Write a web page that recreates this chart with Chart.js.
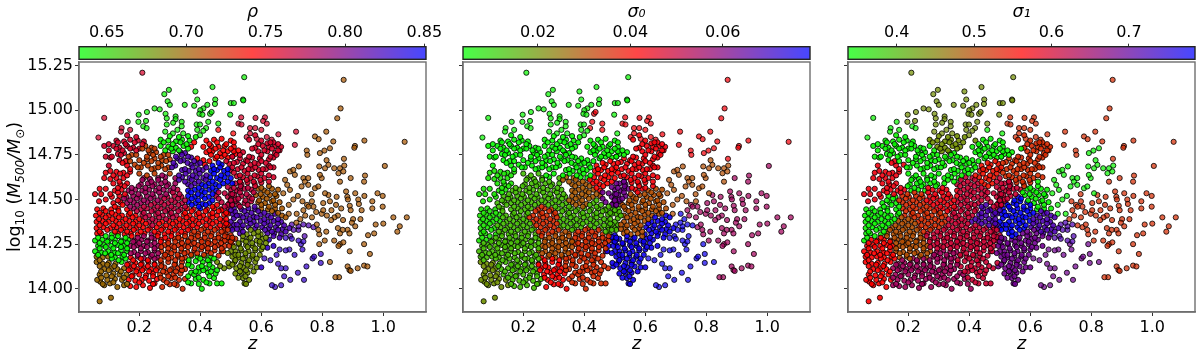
<!DOCTYPE html>
<html><head><meta charset="utf-8">
<script src="https://cdn.jsdelivr.net/npm/chart.js@4"></script>
<style>html,body{margin:0;background:#fff;width:1200px;height:359px;overflow:hidden}canvas{position:absolute}</style>
</head><body>
<script>
// Points, as z, log10(M500/Msun) pairs
const top1=[.21,15.21,.544,15.185,.282,15.09,.297,15.114,.293,15.05,.30,15.03,.384,15.105,.39,15.06,.44,15.13,.449,15.06,.448,15.035,.349,15.03,.38,15.025,.423,15.03,.41,15.01,.40,15.0,.397,14.98,.407,14.975,.432,14.98,.437,14.99,.50,15.04,.51,15.04,.54,15.06,.541,15.055,.498,14.975,.25,15.01,.267,15.005,.225,14.99,.198,14.975,.286,14.98,.162,14.935,.197,14.935,.222,14.94,.29,14.955,.319,14.965,.319,14.95,.339,14.935,.459,14.925,.534,14.96,.581,14.957,.612,14.96,.606,14.94,.563,14.9,.525,14.925,.535,14.92,.618,14.925,.459,14.89,.426,14.935,.388,14.92,.399,14.92,.419,14.9,.213,14.91,.224,14.9,.17,14.89,.142,14.9,.14,14.88,.29,14.92,.311,14.93,.339,14.91,.344,14.87,.399,14.86,.508,14.87,.563,14.87,.552,14.85,.585,14.84,.618,14.85,.656,14.865,.634,14.835,.085,14.957,.066,14.847,.325,14.89,.31,14.87,.285,14.88,.39,14.89,.41,14.885,.58,14.9,.6,14.89];
const far1=[.87,15.17,.86,15.01,.849,14.955,1.07,14.823,.938,14.83,.907,14.80,.905,14.79,.714,14.88,.813,14.88,.776,14.853,.788,14.838,.71,14.806,.749,14.774,.751,14.75,.792,14.76,.807,14.774,.825,14.787,.836,14.825,.871,14.728,1.005,14.688,.94,14.634,.937,14.60,.893,14.62,.71,14.638,.694,14.657,.705,14.666,.723,14.685,.678,14.61,.685,14.582,.694,14.554,.672,14.535,.738,14.62,.743,14.60,.754,14.62,.732,14.573,.754,14.582,.776,14.563,.787,14.573,.798,14.62,.792,14.638,.809,14.675,.79,14.685,.82,14.694,.839,14.675,.858,14.675,.872,14.69,.853,14.647,.869,14.657,.858,14.60,.878,14.545,.882,14.515,.847,14.515,.825,14.49,.82,14.525,.809,14.535,.814,14.72,.908,14.535,.938,14.52,.964,14.49,.981,14.535,.998,14.52,.964,14.45,.998,14.46,1.033,14.40,1.077,14.40,1.054,14.35,1.046,14.32,1.0,14.365,.975,14.36,.97,14.31,.95,14.30,.918,14.5,.92,14.475,.929,14.44,.925,14.39,.901,14.39,.884,14.5,.89,14.465,.893,14.44,.862,14.45,.851,14.41,.84,14.40,.829,14.385,.868,14.385,.897,14.37,.908,14.35,.883,14.33,.889,14.31,.867,14.33,.851,14.34,.858,14.31,.839,14.27,.858,14.25,.869,14.26,.853,14.24,.89,14.21,.937,14.25,.956,14.195,.937,14.13,.948,14.125,.916,14.115,.883,14.125,.889,14.105,.893,14.10,.855,14.065,.843,14.065,.825,14.15,.79,14.25,.795,14.195,.795,14.145,.768,14.17,.773,14.18,.748,14.125,.74,14.05,.72,14.09,.675,14.07,.665,14.02,.645,14.01,.635,14.02,.695,14.05,.68,14.115,.665,14.115,.735,14.22,.73,14.25,.709,14.19,.692,14.22,.742,14.295,.738,14.265,.722,14.27,.722,14.33,.722,14.35,.706,14.33,.695,14.295,.808,14.27,.813,14.32,.79,14.305,.787,14.33,.771,14.345,.755,14.355,.738,14.36,.728,14.39,.716,14.42,.738,14.44,.75,14.47,.766,14.49,.771,14.46,.755,14.46,.744,14.41,.766,14.40,.782,14.36,.798,14.42,.803,14.44,.803,14.48,.66,14.22,.68,14.215,.7,14.28,.68,14.285,.7,14.36,.715,14.37,.69,14.42,.69,14.47,.705,14.5,.72,14.52,.735,14.49,.78,14.43,.815,14.41,.83,14.44,.845,14.47,.765,14.53,.65,14.19,.63,14.16,.61,14.17,.655,14.14];
const b00=[.07,13.93,.107,13.95,.072,14.04,.085,14.02,.104,14.03,.128,14.01,.15,14.02,.17,14.015,.19,14.01,.212,14.02,.235,14.005,.25,14.03,.275,14.01,.30,14.025,.323,14.02,.342,14.0,.37,14.03,.405,14.0,.43,14.03,.455,14.03,.47,14.03,.062,14.05,.095,14.05,.12,14.055,.143,14.05,.165,14.05,.187,14.045,.208,14.05,.232,14.045,.258,14.055,.28,14.05,.305,14.06,.33,14.05,.35,14.055,.385,14.055,.41,14.05,.445,14.06,.545,14.03,.56,14.05,.54,14.06];
const b08=[.07,14.08,.092,14.075,.115,14.085,.135,14.08,.158,14.08,.178,14.075,.2,14.08,.222,14.075,.245,14.085,.268,14.08,.29,14.09,.312,14.08,.335,14.085,.37,14.09,.38,14.08,.395,14.095,.425,14.09,.45,14.085,.515,14.085,.535,14.09,.555,14.09,.085,14.11,.108,14.115,.128,14.11,.15,14.115,.172,14.11,.193,14.11,.215,14.115,.238,14.11,.26,14.115,.282,14.12,.305,14.11,.325,14.115,.35,14.11,.372,14.125,.395,14.12,.418,14.115,.44,14.12,.478,14.115,.495,14.125,.518,14.115,.54,14.12,.565,14.125,.585,14.12,.6,14.12];
const b14=[.06,14.15,.08,14.14,.1,14.145,.122,14.14,.142,14.15,.165,14.14,.187,14.145,.208,14.14,.23,14.15,.25,14.14,.272,14.145,.295,14.15,.318,14.14,.34,14.15,.362,14.145,.385,14.155,.408,14.15,.43,14.15,.455,14.15,.492,14.145,.512,14.15,.535,14.145,.555,14.15,.58,14.15,.06,14.18,.172,14.175,.195,14.18,.215,14.17,.238,14.18,.26,14.175,.282,14.18,.305,14.175,.328,14.18,.35,14.175,.372,14.185,.392,14.18,.415,14.185,.435,14.18,.46,14.185,.505,14.18,.525,14.175,.548,14.185,.57,14.18,.595,14.19,.08,14.175,.098,14.18,.12,14.175,.145,14.18];
const b20=[.055,14.21,.075,14.205,.098,14.21,.118,14.205,.14,14.215,.16,14.21,.183,14.205,.205,14.21,.228,14.205,.25,14.215,.272,14.21,.293,14.205,.315,14.215,.338,14.21,.358,14.205,.38,14.215,.403,14.22,.425,14.21,.447,14.215,.47,14.21,.515,14.21,.535,14.215,.558,14.21,.58,14.215,.6,14.22,.62,14.23,.64,14.24,.065,14.24,.085,14.245,.108,14.24,.13,14.245,.15,14.24,.17,14.24,.193,14.245,.215,14.24,.24,14.245,.262,14.24,.283,14.245,.305,14.24,.327,14.245,.348,14.24,.37,14.25,.392,14.245,.413,14.24,.435,14.25,.458,14.245,.48,14.24,.505,14.245,.527,14.25,.55,14.245,.572,14.24,.595,14.25];
const b27=[.055,14.27,.078,14.275,.1,14.27,.12,14.275,.142,14.27,.163,14.275,.185,14.27,.207,14.275,.228,14.27,.25,14.28,.272,14.275,.295,14.27,.316,14.28,.338,14.275,.36,14.27,.382,14.28,.403,14.275,.425,14.27,.447,14.28,.47,14.275,.492,14.27,.515,14.28,.54,14.275,.56,14.28,.585,14.27,.605,14.28,.625,14.275,.062,14.31,.075,14.31,.11,14.305,.13,14.31,.152,14.305,.172,14.31,.195,14.305,.217,14.31,.24,14.305,.262,14.31,.283,14.305,.305,14.31,.328,14.305,.35,14.31,.372,14.305,.393,14.31,.415,14.305,.437,14.31,.46,14.305,.482,14.31,.53,14.31,.552,14.305,.575,14.31,.598,14.305,.62,14.31,.642,14.31,.665,14.305];
const b34=[.06,14.34,.082,14.345,.105,14.34,.125,14.345,.147,14.34,.168,14.345,.19,14.34,.212,14.345,.235,14.34,.257,14.345,.278,14.34,.3,14.345,.322,14.34,.345,14.345,.367,14.34,.39,14.345,.412,14.34,.433,14.345,.455,14.34,.478,14.345,.5,14.34,.535,14.34,.558,14.345,.58,14.34,.603,14.345,.625,14.34,.648,14.345,.67,14.335,.692,14.34,.06,14.375,.08,14.38,.1,14.375,.123,14.38,.145,14.375,.167,14.38,.188,14.375,.21,14.38,.232,14.375,.253,14.38,.275,14.375,.298,14.38,.32,14.375,.342,14.38,.364,14.375,.385,14.38,.407,14.375,.43,14.38,.452,14.375,.475,14.38,.53,14.375,.552,14.38,.575,14.375,.598,14.38,.62,14.375,.64,14.38,.665,14.375];
const b40=[.058,14.41,.078,14.415,.1,14.41,.122,14.415,.143,14.41,.165,14.415,.188,14.41,.21,14.415,.232,14.41,.255,14.415,.277,14.41,.3,14.415,.322,14.41,.345,14.415,.365,14.41,.388,14.415,.41,14.41,.432,14.415,.455,14.41,.478,14.415,.53,14.41,.552,14.415,.575,14.405,.598,14.415,.622,14.41,.645,14.42,.668,14.41,.062,14.445,.082,14.45,.108,14.445,.13,14.45,.16,14.445,.182,14.45,.205,14.445,.225,14.45,.248,14.445,.27,14.45,.292,14.445,.313,14.45,.335,14.445,.356,14.45,.378,14.445,.4,14.45,.422,14.445,.445,14.45,.468,14.445,.49,14.455,.51,14.45,.535,14.445,.558,14.45,.58,14.445,.6,14.45,.622,14.445,.645,14.45,.668,14.45];
const b47=[.115,14.48,.138,14.485,.16,14.48,.182,14.485,.205,14.48,.227,14.485,.25,14.48,.272,14.485,.295,14.48,.317,14.485,.34,14.48,.362,14.485,.385,14.48,.407,14.475,.43,14.48,.47,14.485,.495,14.48,.518,14.49,.545,14.48,.567,14.49,.59,14.485,.612,14.48,.635,14.49,.66,14.485,.068,14.49,.09,14.5,.055,14.53,.075,14.53,.11,14.515,.135,14.52,.158,14.515,.18,14.52,.202,14.515,.225,14.52,.247,14.515,.27,14.52,.292,14.515,.315,14.52,.338,14.515,.36,14.52,.382,14.515,.405,14.52,.428,14.515,.452,14.52,.49,14.515,.512,14.525,.535,14.52,.56,14.515,.582,14.525,.605,14.515,.628,14.525,.65,14.52];
const b55=[.07,14.56,.09,14.56,.12,14.55,.142,14.555,.165,14.55,.187,14.555,.21,14.55,.232,14.555,.255,14.55,.28,14.555,.302,14.55,.325,14.555,.36,14.55,.382,14.555,.405,14.55,.43,14.555,.452,14.55,.5,14.555,.52,14.55,.545,14.56,.568,14.555,.59,14.56,.61,14.55,.635,14.56,.655,14.555,.115,14.59,.138,14.585,.16,14.59,.205,14.585,.228,14.59,.25,14.585,.272,14.59,.295,14.585,.318,14.59,.36,14.585,.382,14.59,.405,14.585,.428,14.59,.45,14.585,.475,14.59,.515,14.59,.535,14.585,.555,14.595,.578,14.59,.6,14.595,.125,14.62,.148,14.62,.085,14.62,.105,14.615];
const b62=[.09,14.65,.105,14.66,.1,14.69,.125,14.655,.148,14.65,.17,14.655,.215,14.62,.235,14.615,.262,14.62,.285,14.625,.318,14.62,.34,14.625,.365,14.62,.388,14.625,.41,14.62,.432,14.625,.455,14.62,.48,14.625,.52,14.63,.54,14.625,.565,14.62,.587,14.63,.61,14.62,.64,14.625,.16,14.69,.185,14.695,.205,14.68,.228,14.69,.25,14.675,.272,14.69,.295,14.68,.318,14.69,.34,14.665,.362,14.66,.385,14.66,.408,14.665,.435,14.66,.455,14.665,.478,14.66,.5,14.665,.523,14.67,.545,14.66,.57,14.67,.592,14.665,.615,14.67,.37,14.695,.39,14.7,.415,14.695,.44,14.69,.47,14.695,.495,14.7,.54,14.7,.565,14.695,.59,14.7,.625,14.69,.64,14.68];
const b72=[.09,14.74,.105,14.735,.135,14.72,.155,14.715,.2,14.72,.225,14.725,.25,14.73,.275,14.72,.3,14.725,.325,14.73,.345,14.72,.37,14.735,.39,14.73,.41,14.72,.45,14.73,.47,14.74,.53,14.73,.55,14.72,.57,14.735,.595,14.73,.625,14.725,.64,14.735,.13,14.755,.15,14.76,.175,14.75,.235,14.76,.255,14.765,.28,14.75,.31,14.77,.335,14.765,.35,14.76,.42,14.765,.44,14.77,.465,14.76,.49,14.77,.515,14.755,.54,14.765,.59,14.77,.62,14.77,.645,14.76,.66,14.775,.085,14.8,.115,14.8,.135,14.79,.16,14.8,.18,14.79,.2,14.785,.22,14.8,.24,14.79,.27,14.8,.295,14.795,.32,14.79,.345,14.8,.37,14.795,.41,14.795,.435,14.8,.46,14.795,.48,14.8,.51,14.795,.58,14.79,.605,14.8,.625,14.795,.645,14.8,.665,14.795];
const b83=[.125,14.83,.15,14.825,.17,14.835,.195,14.83,.215,14.825,.27,14.835,.295,14.83,.32,14.825,.34,14.835,.365,14.83,.42,14.83,.445,14.835,.47,14.84,.5,14.83,.56,14.835,.6,14.83,.62,14.815,.64,14.82,.655,14.81,.16,14.86,.19,14.85,.3,14.855,.33,14.85,.36,14.855,.385,14.85,.58,14.86];
const midBand=[.5,14.21,.495,14.24,.505,14.275,.5,14.3,.505,14.33,.51,14.36,.5,14.375,.51,14.395,.505,14.42,.515,14.43,.5,14.44,.49,14.47,.505,14.47,.515,14.5,.5,14.5,.5,14.53,.48,14.535,.49,14.57,.505,14.59,.49,14.6,.5,14.62,.51,14.65,.505,14.68,.52,14.71,.505,14.74,.49,14.735,.51,14.77,.475,14.21,.49,14.2,.515,14.19,.48,14.27,.49,14.29,.48,14.33,.49,14.36,.485,14.39,.49,14.42,.47,14.44,.52,14.335,.52,14.36,.52,14.41,.525,14.47,.53,14.56,.53,14.6];
const sparseLists=[top1,far1];
const denseLists=[b00,b08,b14,b20,b27,b34,b40,b47,b55,b62,b72,b83,midBand];
// Further points in the crowded area: first entry is log10 M, the others are z
const crowdRows=[
[14.027,.08,.16,.245,.315,.395,.55],[14.036,.115,.2,.29,.36,.42],
[14.062,.075,.15,.22,.27,.318,.395,.525],[14.07,.11,.175,.245,.295,.36,.43,.548],
[14.097,.075,.14,.19,.232,.278,.32,.385,.435,.53,.575],[14.104,.1,.165,.21,.255,.3,.34,.41,.455,.55],
[14.127,.07,.118,.182,.228,.272,.338,.405,.465,.53],[14.135,.095,.16,.205,.25,.315,.36,.43,.505,.555],
[14.16,.07,.132,.18,.228,.27,.318,.362,.425,.515,.56],[14.169,.11,.155,.205,.25,.295,.34,.4,.445,.54,.585],
[14.19,.065,.108,.15,.195,.242,.285,.325,.37,.412,.525,.572],[14.199,.088,.13,.172,.22,.262,.305,.348,.39,.435,.548],
[14.226,.07,.115,.16,.205,.25,.295,.338,.382,.425,.47,.532,.58],[14.234,.09,.14,.182,.225,.272,.315,.36,.405,.448,.51,.555,.605],
[14.256,.07,.12,.16,.2,.25,.295,.34,.38,.425,.468,.525,.57,.615],[14.264,.095,.14,.18,.225,.27,.318,.36,.405,.448,.5,.55,.595],
[14.286,.065,.11,.155,.195,.24,.285,.328,.37,.415,.46,.505,.565,.615,.66],[14.295,.09,.13,.175,.215,.26,.305,.35,.392,.435,.48,.54,.59,.64],
[14.32,.07,.12,.16,.205,.25,.295,.338,.38,.425,.47,.54,.59,.635,.68],[14.33,.095,.14,.182,.228,.272,.316,.36,.403,.447,.49,.565,.612,.655],
[14.355,.07,.115,.158,.2,.243,.288,.332,.375,.42,.465,.54,.585,.63,.675],[14.365,.09,.135,.18,.222,.265,.31,.355,.395,.44,.485,.565,.61,.655],
[14.39,.068,.112,.155,.2,.243,.288,.332,.375,.42,.465,.562,.61,.655],[14.4,.09,.133,.178,.22,.265,.31,.355,.398,.44,.54,.585,.632,.68],
[14.425,.07,.11,.17,.215,.262,.305,.35,.395,.44,.485,.568,.61,.655],[14.435,.09,.132,.192,.24,.285,.328,.372,.417,.46,.545,.59,.635],
[14.46,.12,.17,.215,.26,.305,.35,.395,.44,.48,.53,.578,.625],[14.47,.145,.193,.238,.282,.328,.372,.418,.455,.505,.555,.6,.645],
[14.495,.13,.17,.215,.26,.305,.35,.393,.44,.5,.548,.593,.64],[14.505,.15,.192,.237,.282,.327,.372,.415,.46,.525,.57,.618],
[14.53,.105,.153,.197,.243,.288,.332,.392,.44,.505,.552,.598,.645],[14.54,.13,.175,.22,.265,.31,.37,.415,.46,.53,.575,.62],
[14.565,.13,.175,.22,.265,.312,.395,.44,.51,.556,.6],[14.575,.152,.198,.243,.29,.37,.417,.462,.532,.58,.625],
[14.6,.135,.24,.285,.35,.395,.44,.53,.575,.625],[14.61,.21,.262,.33,.372,.418,.465,.552,.597],
[14.635,.115,.16,.225,.275,.33,.375,.42,.468,.53,.578,.625],[14.645,.137,.2,.25,.3,.352,.398,.445,.49,.555,.6],
[14.67,.17,.24,.285,.35,.395,.445,.49,.558,.605],[14.68,.195,.262,.307,.375,.42,.465,.535,.58,.63],
[14.705,.145,.215,.262,.312,.358,.4,.46,.51,.578,.615],[14.715,.17,.24,.288,.335,.38,.43,.485,.555,.6],
[14.74,.11,.165,.225,.27,.32,.36,.455,.505,.56,.63],[14.75,.14,.19,.245,.295,.34,.435,.48,.53,.6,.65],
[14.775,.1,.145,.19,.23,.285,.33,.43,.475,.525,.61,.655],[14.785,.125,.17,.21,.25,.305,.36,.45,.5,.57,.635],
[14.81,.1,.155,.21,.31,.355,.43,.485,.59],[14.82,.13,.185,.28,.335,.38,.455,.51,.63]];

// Colour regions: z, log10 M, value
const rhoCells=[.29,15.06,.637,.40,15.02,.637,.31,14.83,.637,.39,14.91,.637,.21,15.0,.637,.54,15.18,.637,.51,15.04,.637,.21,15.21,.759,.16,14.83,.759,.07,14.8,.759,.10,14.74,.759,.085,14.96,.759,.126,14.59,.748,.07,14.52,.748,.148,14.65,.748,.246,14.70,.716,.2,14.70,.716,.29,14.70,.716,.366,14.67,.818,.388,14.61,.818,.32,14.70,.818,.41,14.55,.851,.475,14.63,.851,.39,14.52,.851,.454,14.80,.742,.497,14.815,.742,.42,14.78,.742,.574,14.78,.759,.65,14.76,.759,.574,14.65,.759,.585,14.88,.759,.53,14.68,.759,.53,14.92,.759,.235,14.554,.781,.2,14.52,.781,.28,14.58,.781,.29,14.44,.768,.322,14.50,.768,.235,14.42,.768,.497,14.52,.768,.53,14.52,.768,.78,14.5,.705,.89,14.4,.705,.727,14.57,.705,.836,14.27,.705,.617,14.5,.705,.672,14.52,.705,.89,14.125,.705,.847,14.07,.705,.727,14.65,.705,.836,14.68,.705,1.0,14.5,.705,1.055,14.35,.705,.787,14.25,.705,.705,14.40,.705,.574,14.40,.818,.65,14.33,.818,.53,14.39,.818,.716,14.33,.818,.683,14.14,.829,.65,14.05,.829,.77,14.16,.829,.617,14.01,.829,.727,14.05,.829,.64,14.22,.829,.705,14.24,.829,.377,14.386,.742,.137,14.37,.742,.202,14.35,.742,.454,14.40,.742,.07,14.39,.742,.29,14.33,.742,.4,14.27,.724,.322,14.22,.724,.31,14.09,.724,.464,14.27,.724,.22,14.25,.781,.115,14.24,.635,.07,14.22,.635,.11,14.06,.698,.07,14.14,.698,.07,13.93,.698,.107,13.95,.698,.21,14.09,.742,.4,14.11,.637,.42,14.03,.637,.465,14.03,.637,.535,14.18,.681,.508,14.125,.681,.54,14.03,.681,.585,14.27,.681];
const sigma0Cells=[.248,14.87,.005,.357,14.965,.005,.445,14.83,.005,.193,14.78,.005,.303,14.72,.005,.106,14.74,.005,.204,15.2,.005,.543,15.18,.005,.5,15.04,.005,.062,14.85,.005,.084,14.96,.005,.39,14.685,.005,.49,14.815,.005,.062,14.52,.0075,.084,14.42,.0075,.073,14.33,.0075,.117,14.59,.0075,.226,14.54,.0135,.303,14.52,.0135,.15,14.31,.0135,.193,14.125,.0135,.434,14.42,.0135,.357,14.405,.0135,.16,14.47,.0135,.15,14.16,.0135,.226,14.03,.0135,.49,14.405,.0135,.2,14.29,.0135,.084,14.22,.0135,.084,14.09,.0203,.073,13.94,.0203,.106,13.95,.0203,.084,14.03,.0203,.396,14.52,.0286,.368,14.555,.0286,.275,14.38,.0353,.314,14.24,.0301,.423,14.27,.0353,.412,14.105,.0353,.456,14.03,.0353,.368,14.125,.0353,.303,14.105,.0413,.303,14.03,.0413,.467,14.63,.0413,.565,14.665,.0428,.63,14.76,.0428,.543,14.93,.0428,.62,14.91,.0428,.587,14.63,.0428,.46,14.89,.0428,.51,14.52,.0624,.62,14.48,.0301,.554,14.385,.0301,.543,14.46,.0301,.685,14.5,.0301,.718,14.61,.0301,.795,14.63,.0301,.86,14.685,.0301,.707,14.67,.0301,.74,14.54,.0301,.532,14.22,.0766,.543,14.105,.0766,.652,14.33,.0766,.674,14.22,.0766,.62,14.03,.0766,.74,14.125,.0766,.718,14.05,.0766,.783,14.2,.0766,.718,14.35,.0766,.85,14.46,.0548,.958,14.46,.0548,1.068,14.48,.0548,.762,14.42,.0548,.871,14.27,.0548,.937,14.125,.0548,.85,14.07,.0548,1.006,14.686,.0548,.937,14.63,.0548,1.087,14.4,.0548,.838,14.25,.0548,.87,15.17,.0428,.86,15.01,.0428,.805,14.87,.0428,.909,14.8,.0428,1.07,14.82,.0428,.718,14.88,.0428,.75,14.76,.0428,.87,14.725,.0428];
const sigma1Cells=[.285,14.965,.436,.395,14.965,.436,.318,14.83,.436,.198,15.06,.436,.209,15.21,.436,.542,15.18,.436,.493,15.04,.436,.384,14.87,.436,.449,15.06,.436,.252,14.72,.346,.34,14.685,.346,.209,14.8,.346,.132,14.815,.346,.46,14.8,.346,.395,14.7,.346,.23,14.61,.346,.083,14.955,.346,.067,14.85,.346,.285,14.63,.346,.515,14.825,.346,.11,14.61,.575,.154,14.61,.575,.067,14.52,.575,.089,14.42,.346,.067,14.37,.346,.143,14.44,.346,.209,14.48,.525,.274,14.37,.525,.25,14.42,.525,.187,14.33,.494,.214,14.24,.494,.24,14.24,.494,.1,14.2,.561,.1,14.07,.561,.067,13.99,.561,.105,13.95,.561,.33,14.52,.575,.296,14.52,.575,.395,14.46,.606,.35,14.31,.606,.47,14.52,.606,.504,14.555,.606,.416,14.16,.606,.395,14.555,.606,.438,14.29,.606,.46,14.11,.606,.285,14.27,.606,.23,14.105,.642,.307,14.145,.642,.285,14.03,.642,.187,14.07,.642,.33,14.03,.642,.46,14.63,.548,.558,14.665,.525,.635,14.8,.525,.548,14.89,.525,.602,14.93,.525,.59,14.685,.525,.777,14.42,.525,.886,14.405,.525,.996,14.42,.525,.864,15.17,.525,.853,15.0,.525,.908,14.8,.525,1.067,14.82,.525,.94,14.22,.525,1.005,14.686,.525,1.083,14.4,.525,.82,14.87,.525,.711,14.88,.525,.744,14.76,.525,.87,14.72,.525,.886,14.61,.525,.865,14.125,.525,.854,14.27,.525,.624,14.5,.346,.722,14.63,.346,.799,14.65,.346,.864,14.675,.346,.70,14.67,.346,.668,14.46,.346,.679,14.535,.346,.81,14.74,.346,.449,14.42,.718,.635,14.35,.718,.70,14.31,.718,.657,14.405,.718,.558,14.405,.785,.58,14.44,.785,.548,14.37,.785,.537,14.2,.687,.526,14.105,.687,.657,14.22,.687,.635,14.07,.687,.722,14.18,.687,.755,14.05,.687,.788,14.18,.687,.613,14.29,.687];

const zRange=[0.0023,1.14], massRange=[13.87,15.27];
const massTicks=[14.0,14.25,14.5,14.75,15.0,15.25], zTicks=[0.2,0.4,0.6,0.8,1.0];
const panels=[
 {title:'ρ',left:79,width:347,range:[.6325,.851],step:.05,dec:2,cells:rhoCells,labels:true},
 {title:'σ₀',left:463.3,width:347.4,range:[.00378,.0789],step:.02,dec:2,cells:sigma0Cells,labels:false},
 {title:'σ₁',left:848.3,width:346.7,range:[.337,.7855],step:.1,dec:1,cells:sigma1Cells,labels:false}];

const points=[];
const addList=(l,a)=>{for(let i=0;i<l.length;i+=2)points.push({x:l[i],y:l[i+1],a});};
sparseLists.forEach(l=>addList(l,.72));
denseLists.forEach(l=>addList(l,.9));
crowdRows.forEach(r=>{for(let i=1;i<r.length;i++)points.push({x:r[i],y:r[0],a:.9});});
function brgR(v,r,a){const t=Math.min(1,Math.max(0,(v-r[0])/(r[1]-r[0])));
 const R=t<.5?2*t:2-2*t,G=t<.5?1-2*t:0,B=t<.5?0:2*t-1;
 return `rgba(${Math.round(R*255)},${Math.round(G*255)},${Math.round(B*255)},${a})`;}
function cellValue(p,c){let best=0,bd=1e9;for(let i=0;i<c.length;i+=3){
 const dx=(p.x-c[i])*305,dy=(p.y-c[i+1])*178.7,d=dx*dx+dy*dy;if(d<bd){bd=d;best=c[i+2];}}return best;}
function mk(left,top,w,h){const c=document.createElement('canvas');c.style.left=left+'px';c.style.top=top+'px';c.width=w;c.height=h;c.style.width=w+'px';c.style.height=h+'px';document.body.appendChild(c);return c;}
const FF='"DejaVu Sans"',AX='#6e6e6e';
const frame={id:'frame',afterDraw(ch){const a=ch.chartArea,x=ch.ctx;x.save();x.strokeStyle=ch.options.frameColor||AX;x.lineWidth=1.4;x.strokeRect(a.left,a.top,a.right-a.left,a.bottom-a.top);x.restore();}};
const massLabel={id:'massLabel',afterDraw(ch){const x=ch.ctx;const parts=[['log',0,0],['10',1,0],[' (',0,0],['M',0,1],['500',1,1],['/',0,1],['M',0,1],['⊙',1,0],[')',0,0]];
 const f=(s,it)=>`${it?'italic ':''}${s?12:17.5}px ${FF}`;let tot=0;parts.forEach(p=>{x.font=f(p[1],p[2]);tot+=x.measureText(p[0]).width;});
 x.save();x.translate(14,187-50);x.rotate(-Math.PI/2);x.fillStyle='#000';x.textBaseline='alphabetic';let pos=-tot/2;
 parts.forEach(p=>{x.font=f(p[1],p[2]);x.fillText(p[0],pos,6+(p[1]?4:0));pos+=x.measureText(p[0]).width;});x.restore();}};

panels.forEach((p,i)=>{
 const yw=i==0?79:20;
 const cv=mk(Math.round(p.left)-yw,50,yw+Math.round(p.width)+6,309);
 const colors=points.map(q=>brgR(cellValue(q,p.cells),p.range,q.a));
 new Chart(cv,{type:'scatter',plugins:i==0?[frame,massLabel]:[frame],
  data:{datasets:[{data:points,pointRadius:2.6,pointBorderWidth:1,pointBackgroundColor:colors,pointBorderColor:'rgba(0,0,0,.8)'}]},
  options:{responsive:false,animation:false,devicePixelRatio:1,layout:{padding:{top:12,right:6,left:0,bottom:0}},
   plugins:{legend:{display:false},tooltip:{enabled:false}},
   scales:{
    x:{type:'linear',min:zRange[0],max:zRange[1],afterFit(s){s.height=47;},
     afterBuildTicks(s){s.ticks=zTicks.map(v=>({value:v}));},
     title:{display:true,text:'z',font:{family:FF,size:17.5,style:'italic'},color:'#000',padding:{top:2,bottom:4}},
     border:{color:AX,width:1.4},grid:{drawOnChartArea:false,drawTicks:true,tickLength:4,tickColor:'#333',tickWidth:1},
     ticks:{font:{family:FF,size:16},color:'#000',padding:2,maxRotation:0,autoSkip:false,callback:v=>v.toFixed(1)}},
    y:{type:'linear',min:massRange[0],max:massRange[1],afterFit(s){s.width=yw;},
     afterBuildTicks(s){s.ticks=massTicks.map(v=>({value:v}));},
     border:{color:AX,width:1.4},grid:{drawOnChartArea:false,drawTicks:true,tickLength:4,tickColor:'#333',tickWidth:1},
     ticks:{display:p.labels,font:{family:FF,size:16},color:'#000',padding:2,autoSkip:false,callback:v=>v.toFixed(2)}}}}});
 // colour bar
 const pad=34;
 const cb=mk(Math.round(p.left)-pad,0,Math.round(p.width)+2*pad,60);
 new Chart(cb,{type:'bar',plugins:[frame],
  data:{labels:[p.title],datasets:[{data:[p.range],barPercentage:1,categoryPercentage:1,borderSkipped:false,
   backgroundColor(c){const a=c.chart.chartArea;if(!a)return '#888';const g=c.chart.ctx.createLinearGradient(a.left,0,a.right,0);
     for(let k=0;k<=4;k++){g.addColorStop(k/4,brgR(p.range[0]+(p.range[1]-p.range[0])*k/4,p.range,.72));}return g;}}]},
  options:{frameColor:'#222',indexAxis:'y',responsive:false,animation:false,devicePixelRatio:1,layout:{padding:{left:pad,right:pad,top:0,bottom:0.7}},
   plugins:{legend:{display:false},tooltip:{enabled:false}},
   scales:{
    y:{display:false},
    x:{type:'linear',position:'top',min:p.range[0],max:p.range[1],afterFit(s){s.height=46.7;},
     title:{display:true,text:p.title,font:{family:FF,size:17.5,style:'italic'},color:'#000',padding:{top:2,bottom:3}},
     border:{display:false},grid:{drawOnChartArea:false,drawTicks:true,tickLength:3,tickColor:'#333',tickWidth:1},
     ticks:{stepSize:p.step,includeBounds:false,font:{family:FF,size:16},color:'#000',padding:1,maxRotation:0,autoSkip:false,callback:v=>v.toFixed(p.dec)}}}}});
});
</script>
</body></html>
